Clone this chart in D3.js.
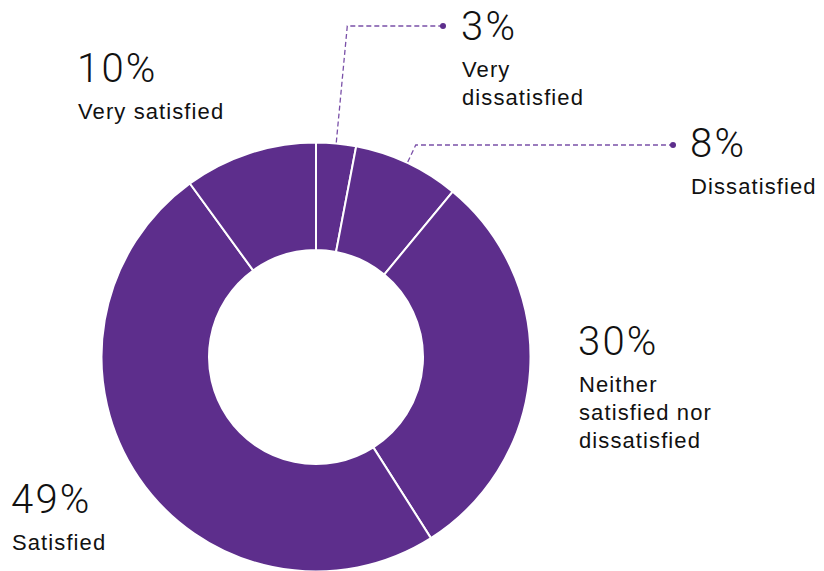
<!DOCTYPE html>
<html>
<head>
<meta charset="utf-8">
<script src="https://cdn.jsdelivr.net/npm/d3@7"></script>
<style>
  html, body { margin: 0; padding: 0; background: #fff; }
  svg { display: block; }
  .pct { font-family: Roboto, "Liberation Sans", sans-serif; font-weight: 300; font-size: 40px; letter-spacing: 2.2px; fill: #111; }
  .lbl { font-family: "Liberation Sans", Arial, sans-serif; font-size: 22px; letter-spacing: 1.1px; fill: #111; }
</style>
</head>
<body>
<svg id="chart" width="824" height="571"></svg>
<script>
// Satisfaction survey: share of respondents per answer, clockwise from 12 o'clock
const categories = ["Very dissatisfied", "Dissatisfied", "Neither satisfied nor dissatisfied", "Satisfied", "Very satisfied"];
const shares = [3, 8, 30, 49, 10];
const labelLines = [
  ["Very", "dissatisfied"],
  ["Dissatisfied"],
  ["Neither", "satisfied nor", "dissatisfied"],
  ["Satisfied"],
  ["Very satisfied"]
];

// Where each annotation sits (text origin), and the end dot for the small slices' leaders
const labelAnchors = [
  { x: 461, y: 40 },
  { x: 690, y: 157 },
  { x: 578, y: 355 },
  { x: 11,  y: 513 },
  { x: 77,  y: 82 }
];
const leaderDots = [
  { x: 443, y: 26 },
  { x: 673, y: 145 },
  null, null, null
];

const svg = d3.select("#chart");
const cx = 316, cy = 357;
const outerR = 214.5, innerR = 107;
const fill = "#5d2e8c";
const leaderColor = "#7a50a8";

const pie = d3.pie().sort(null).value(d => d);
const arcs = pie(shares);
const arc = d3.arc().innerRadius(innerR).outerRadius(outerR);

const ring = svg.append("g").attr("transform", `translate(${cx},${cy})`);
ring.selectAll("path.slice")
  .data(arcs)
  .join("path")
  .attr("class", "slice")
  .attr("d", arc)
  .attr("fill", fill)
  .attr("stroke", "#fff")
  .attr("stroke-width", 2)
  .attr("stroke-linejoin", "miter");

// Leader lines: radial from the slice's outer edge up to the dot's height, then across to the dot
arcs.forEach((a, i) => {
  const dot = leaderDots[i];
  if (!dot) return;
  const mid = (a.startAngle + a.endAngle) / 2;
  const sx = cx + (outerR + 1) * Math.sin(mid);
  const sy = cy - (outerR + 1) * Math.cos(mid);
  const r2 = (cy - dot.y) / Math.cos(mid);
  const ex = cx + r2 * Math.sin(mid);
  const line = d3.line();
  svg.append("path")
    .attr("d", line([[sx, sy], [ex, dot.y], [dot.x, dot.y]]))
    .attr("fill", "none")
    .attr("stroke", leaderColor)
    .attr("stroke-width", 1.3)
    .attr("stroke-dasharray", "5 3");
  svg.append("circle")
    .attr("cx", dot.x).attr("cy", dot.y).attr("r", 3)
    .attr("fill", fill);
});

// Value and category annotations
const labels = svg.selectAll("g.label")
  .data(arcs)
  .join("g")
  .attr("class", "label")
  .attr("transform", (d, i) => `translate(${labelAnchors[i].x},${labelAnchors[i].y})`);

labels.append("text")
  .attr("class", "pct")
  .text(d => `${d.data}%`);

labels.each(function(d, i) {
  const t = d3.select(this).append("text").attr("class", "lbl").attr("transform", "translate(1,0)");
  labelLines[i].forEach((ln, k) => {
    t.append("tspan").attr("x", 0).attr("y", 36.5 + k * 28).text(ln);
  });
});
</script>
</body>
</html>
